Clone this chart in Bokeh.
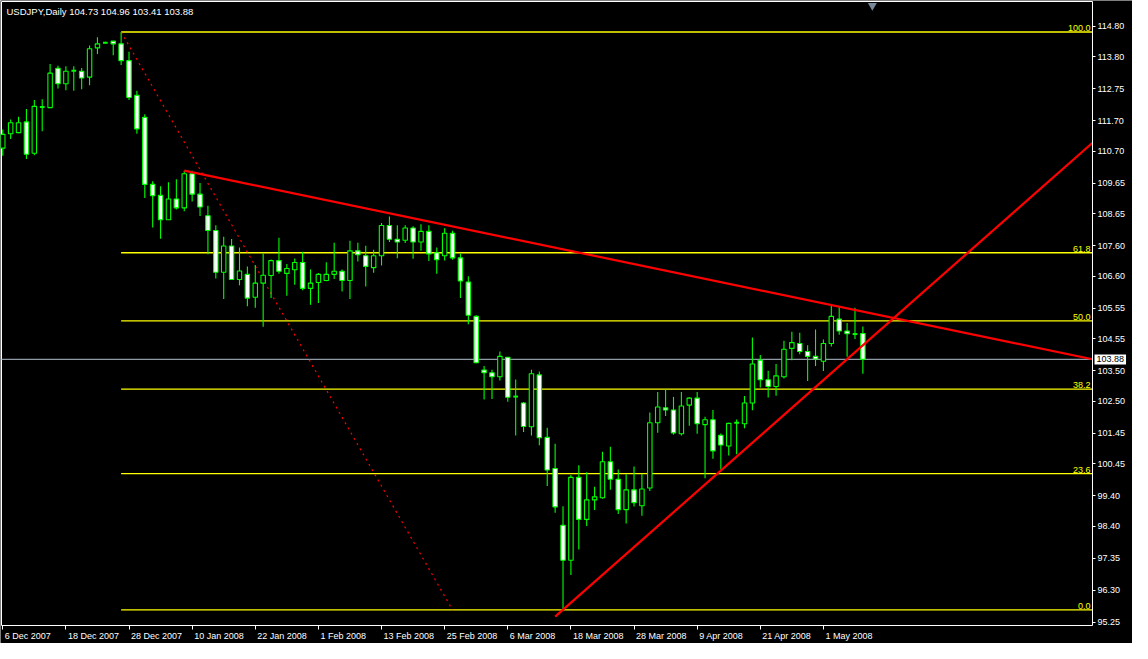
from bokeh.plotting import figure
from bokeh.models import Range1d, FixedTicker, NumeralTickFormatter, Label, ColumnDataSource, LinearAxis
from bokeh.embed import file_html
from bokeh.resources import INLINE

# ---------------- data ----------------
title_text = "USDJPY,Daily  104.73 104.96 103.41 103.88"

opens = [110.81, 111.28, 111.32, 111.67, 110.64, 112.16, 112.14, 113.43, 112.92, 113.35,
         113.33, 113.14, 114.10, 114.27, 114.32, 114.23, 113.68, 112.54, 111.82, 109.62,
         109.26, 108.46, 109.14, 108.85, 109.97, 109.30, 108.59, 108.11, 106.74, 107.60,
         106.50, 106.67, 105.92, 106.38, 106.63, 107.12, 106.70, 106.82, 107.06, 106.21,
         106.40, 106.47, 106.67, 106.77, 106.47, 107.44, 107.28, 106.89, 107.28, 108.27,
         107.82, 107.79, 108.19, 107.73, 108.08, 107.38, 107.28, 108.02, 107.21, 106.42,
         105.29, 103.53, 103.44, 103.31, 103.95, 102.66, 102.45, 101.67, 103.37, 101.32,
         100.30, 98.44, 97.29, 100.01, 98.63, 99.27, 99.34, 100.52, 99.95, 98.95,
         99.60, 99.08, 99.66, 101.80, 102.29, 102.22, 101.44, 102.38, 102.61, 101.74,
         101.90, 101.39, 101.04, 101.80, 101.77, 102.45, 103.85, 103.21, 102.99, 103.31,
         104.24, 104.40, 104.14, 103.98, 103.82, 104.40, 105.20, 104.81, 104.71, 104.73]
highs = [111.42, 111.75, 111.84, 112.09, 112.39, 112.41, 113.57, 113.51, 113.50, 113.50,
         113.44, 114.18, 114.45, 114.30, 114.32, 114.62, 113.97, 112.69, 111.92, 109.72,
         109.56, 109.69, 109.79, 110.07, 110.07, 109.67, 108.92, 108.28, 107.90, 107.83,
         107.55, 106.93, 106.98, 107.35, 107.16, 107.87, 107.01, 107.19, 107.41, 106.83,
         106.71, 107.07, 107.71, 106.83, 107.77, 107.71, 107.61, 107.48, 108.35, 108.57,
         108.28, 108.28, 108.25, 108.31, 108.28, 107.55, 108.18, 108.10, 107.35, 106.61,
         105.33, 103.66, 103.54, 104.14, 103.95, 103.22, 102.48, 103.54, 103.48, 101.64,
         101.11, 99.06, 100.09, 100.41, 100.18, 99.70, 100.85, 101.01, 100.27, 100.11,
         100.37, 100.13, 102.14, 102.81, 102.89, 102.65, 102.81, 102.64, 102.81, 102.00,
         102.22, 101.45, 101.80, 101.91, 102.68, 104.60, 104.02, 103.51, 103.73, 104.49,
         104.79, 104.75, 104.34, 104.86, 104.53, 105.67, 105.60, 105.07, 105.57, 104.96]
lows = [110.56, 111.11, 111.30, 110.45, 110.58, 111.36, 112.14, 112.77, 112.71, 112.69,
        112.74, 112.87, 113.90, 114.24, 113.86, 113.54, 112.39, 111.28, 109.17, 108.21,
        107.84, 108.46, 108.80, 108.74, 109.06, 108.58, 107.33, 106.53, 105.86, 106.48,
        106.31, 105.62, 105.57, 104.95, 105.89, 106.69, 105.97, 106.33, 106.15, 105.67,
        105.73, 106.44, 106.52, 106.11, 105.86, 107.09, 106.27, 106.72, 106.96, 107.73,
        107.20, 107.70, 107.18, 107.44, 107.11, 106.69, 107.12, 107.15, 105.89, 105.03,
        103.75, 102.56, 102.58, 103.19, 102.49, 101.38, 101.50, 101.38, 101.06, 99.73,
        98.85, 95.66, 96.81, 97.64, 98.41, 98.94, 99.31, 99.60, 98.81, 98.50,
        99.05, 98.75, 99.56, 101.47, 102.02, 101.41, 101.38, 101.70, 101.44, 99.98,
        100.62, 100.27, 100.73, 100.77, 101.62, 102.21, 102.96, 102.63, 102.69, 103.25,
        103.85, 104.05, 103.17, 103.66, 103.50, 104.30, 104.69, 103.97, 104.55, 103.41]
closes = [111.26, 111.64, 111.64, 110.61, 112.18, 112.16, 113.27, 112.92, 113.33, 113.35,
          113.11, 114.07, 114.23, 114.27, 114.23, 113.68, 112.47, 111.44, 109.62, 109.25,
          108.46, 109.14, 108.85, 109.97, 109.30, 108.88, 108.11, 106.74, 107.60, 106.50,
          106.78, 105.89, 106.38, 106.64, 107.12, 106.77, 106.86, 107.06, 106.21, 106.38,
          106.67, 106.67, 106.77, 106.47, 107.44, 107.31, 106.93, 107.28, 108.27, 107.82,
          107.73, 108.19, 107.73, 108.08, 107.34, 107.15, 108.02, 107.21, 106.45, 105.33,
          103.77, 103.44, 103.31, 103.98, 102.64, 102.66, 101.68, 103.41, 101.31, 100.25,
          99.04, 97.29, 100.01, 98.63, 99.27, 99.37, 100.52, 99.95, 98.95, 99.60,
          99.18, 99.63, 101.80, 102.32, 102.22, 101.47, 102.35, 102.61, 101.77, 101.90,
          100.88, 101.07, 101.78, 101.80, 102.45, 103.73, 103.21, 102.99, 103.34, 104.21,
          104.43, 104.14, 103.98, 103.89, 104.40, 105.29, 104.81, 104.72, 104.71, 103.88]

date_ticks = [0, 8, 16, 24, 32, 40, 48, 56, 64, 72, 80, 88, 96, 104]
date_labels = ["6 Dec 2007", "18 Dec 2007", "28 Dec 2007", "10 Jan 2008", "22 Jan 2008",
               "1 Feb 2008", "13 Feb 2008", "25 Feb 2008", "6 Mar 2008", "18 Mar 2008",
               "28 Mar 2008", "9 Apr 2008", "21 Apr 2008", "1 May 2008"]
price_ticks = [95.25, 96.30, 97.35, 98.40, 99.40, 100.45, 101.45, 102.50, 103.50, 104.55,
               105.55, 106.60, 107.60, 108.65, 109.65, 110.70, 111.70, 112.75, 113.80, 114.80]

fib_levels = [0.0, 23.6, 38.2, 50.0, 61.8, 100.0]
fib_anchor_x = [15, 57]          # bar index of the two fibo anchors
fib_anchor_y = [114.62, 95.66]   # high / low prices
trend1_x = [23, 106]
trend1_y = [110.07, 105.61]
trend2_x = [70, 105]
trend2_y = [95.44, 103.43]
bid_price = 103.88
shift_marker_bar = 110.2

# ---------------- layout / styling ----------------
LIME = "#00ff00"
YELLOW = "#ffff00"
FONT = "Liberation Sans"
FS = "9px"
FSN = 9.0
X0, X1 = -0.16, 138.1          # visible bar span of the chart window
Y0, Y1 = 95.15, 115.62         # visible price span of the chart window
W, H = 1132, 643               # canvas
CL, CR, CT, CB = 1, 1092, 1, 625   # chart window edges in canvas pixels

pxb = (CR - CL) / (X1 - X0)
pyu = (CB - CT) / (Y1 - Y0)
xr = Range1d(X0 - CL / pxb, X1 + (W - CR) / pxb)
yr = Range1d(Y0 - (H - CB) / pyu, Y1 + CT / pyu)

p = figure(width=W, height=H, x_range=xr, y_range=yr,
           output_backend="svg", toolbar_location=None,
           x_axis_location=None, y_axis_location=None,
           background_fill_color="black", border_fill_color="black",
           min_border=0, min_border_left=0, min_border_right=0,
           min_border_top=0, min_border_bottom=0, outline_line_color=None)
p.grid.visible = False

# price axis on the right edge of the chart window
ya = LinearAxis(fixed_location=X1, bounds=(Y0, Y1),
                ticker=FixedTicker(ticks=price_ticks),
                formatter=NumeralTickFormatter(format="0.00"))
ya.major_label_text_color = "white"
ya.major_label_text_font = FONT
ya.major_label_text_font_size = FS
ya.axis_line_color = "white"
ya.major_tick_line_color = "white"
ya.major_tick_out = 3
ya.major_tick_in = 0
ya.minor_tick_line_color = None
ya.major_label_standoff = 2
p.add_layout(ya, "right")

# date axis: ticks at bars, labels left-aligned just after the tick (MT4 style)
AW = {" ": 278, "D": 722, "e": 556, "c": 500, "J": 500, "a": 556, "n": 556, "F": 611,
      "b": 556, "M": 833, "r": 333, "A": 667, "p": 556, "y": 500}
def text_w(s):
    return sum(AW.get(ch, 556) for ch in s) / 1000.0 * FSN

label_pos = [round(t + (text_w(s) / 2 + 2) / pxb, 3) for t, s in zip(date_ticks, date_labels)]
xa = LinearAxis(fixed_location=Y0, bounds=(X0, X1),
                ticker=FixedTicker(ticks=label_pos, minor_ticks=date_ticks),
                major_label_overrides={pos: s for pos, s in zip(label_pos, date_labels)})
xa.major_label_text_color = "white"
xa.major_label_text_font = FONT
xa.major_label_text_font_size = FS
xa.axis_line_color = "white"
xa.major_tick_line_color = None
xa.major_tick_out = 3
xa.major_tick_in = 0
xa.minor_tick_line_color = "white"
xa.minor_tick_out = 4
xa.minor_tick_in = 0
xa.major_label_standoff = 1
p.add_layout(xa, "below")

# remaining window border (left, top)
p.line(x=[X1, X0, X0], y=[Y1, Y1, Y0], line_color="white", line_width=1)

# bid line
p.segment(x0=[X0], y0=[bid_price], x1=[X1], y1=[bid_price], line_color="#8f9aa6", line_width=1.2)

# fibonacci levels
fh, fl = fib_anchor_y[0], fib_anchor_y[1]
for lvl in fib_levels:
    yv = fl + (fh - fl) * lvl / 100.0
    p.segment(x0=[fib_anchor_x[0]], y0=[yv], x1=[X1], y1=[yv], line_color=YELLOW, line_width=1.3)
    p.add_layout(Label(x=X1, y=yv, x_offset=-2, y_offset=1, text="%.1f" % lvl, text_align="right",
                       text_baseline="bottom", text_color=YELLOW, text_font=FONT,
                       text_font_size=FS))
p.line(fib_anchor_x, fib_anchor_y, line_color="#ff0000", line_width=1.2, line_dash="2 4")

# candles
idx = list(range(len(opens)))
bull = [i for i in idx if closes[i] > opens[i]]
bear = [i for i in idx if closes[i] < opens[i]]
doji = [i for i in idx if closes[i] == opens[i]]

p.segment(x0=idx, y0=lows, x1=idx, y1=highs, line_color=LIME, line_width=1.1)
src_bull = ColumnDataSource(dict(x=bull, top=[closes[i] for i in bull], bottom=[opens[i] for i in bull]))
src_bear = ColumnDataSource(dict(x=bear, top=[opens[i] for i in bear], bottom=[closes[i] for i in bear]))
p.vbar(x="x", top="top", bottom="bottom", width=0.56, source=src_bull,
       fill_color="black", line_color=LIME, line_width=1.1)
p.vbar(x="x", top="top", bottom="bottom", width=0.56, source=src_bear,
       fill_color="white", line_color=LIME, line_width=1.1)
p.segment(x0=[i - 0.3 for i in doji], y0=[opens[i] for i in doji],
          x1=[i + 0.3 for i in doji], y1=[opens[i] for i in doji],
          line_color=LIME, line_width=2)

# trend lines (rays extended to the right edge of the window)
def ray(xs, ys):
    s = (ys[1] - ys[0]) / (xs[1] - xs[0])
    return [xs[0], X1], [ys[0], ys[0] + s * (X1 - xs[0])]

for tx, ty in ((trend1_x, trend1_y), (trend2_x, trend2_y)):
    rx, ry = ray(tx, ty)
    p.line(rx, ry, line_color="#ff0000", line_width=2.2)

# title
p.add_layout(Label(x=X0, y=Y1, x_offset=5, y_offset=-4, text=title_text, text_align="left",
                   text_baseline="top", text_color="white", text_font=FONT, text_font_size="9.5px"))

# bid price box on the price scale
p.add_layout(Label(x=X1, y=bid_price, x_offset=2, text="%.2f" % bid_price, text_align="left",
                   text_baseline="middle", text_color="black", text_font=FONT, text_font_size=FS,
                   background_fill_color="white", padding=2))

# chart-shift marker
p.scatter(x=[shift_marker_bar], y=[Y1 - 4 / pyu], marker="inverted_triangle", size=9,
          fill_color="#778899", line_color=None)

open("out.html", "w").write(file_html(p, INLINE))
